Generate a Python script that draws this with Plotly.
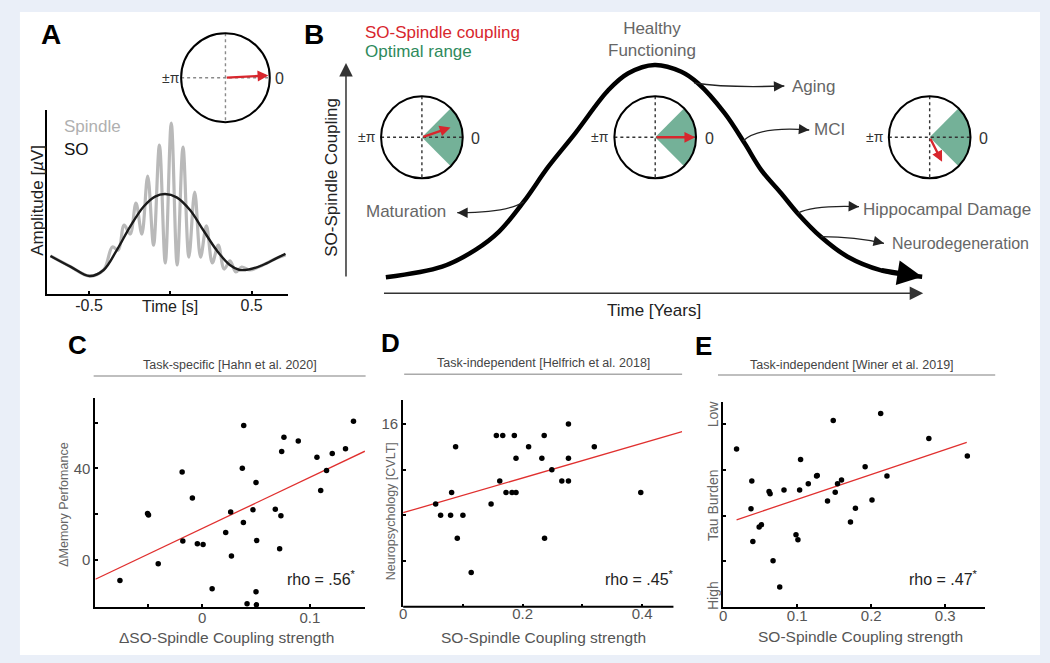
import math
import plotly.graph_objects as go

W, H = 1050, 663

# ---------------- data ----------------
# Panel A: schematic slow oscillation (SO) and spindle (time in s, amplitude a.u.)
so_time = [-0.737, -0.614, -0.496, -0.410, -0.329, -0.247, -0.165, -0.094, -0.032, 0.039,
           0.121, 0.202, 0.284, 0.366, 0.427, 0.488, 0.569, 0.651, 0.708]
so_amp = [20.8, 15.0, 9.9, 13.2, 24.0, 36.7, 47.5, 53.0, 54.4, 52.6,
          45.7, 34.9, 24.0, 15.9, 13.2, 13.6, 15.9, 19.5, 21.9]
spindle_time = [-0.737, -0.614, -0.496, -0.410, -0.356, -0.320, -0.284, -0.247, -0.211, -0.175,
                -0.139, -0.103, -0.067, -0.031, 0.006, 0.042, 0.078, 0.114, 0.150, 0.186,
                0.222, 0.258, 0.295, 0.331, 0.367, 0.403, 0.439, 0.488, 0.569, 0.651, 0.708]
spindle_amp = [20.8, 15.0, 9.9, 13.2, 25.7, 24.0, 37.6, 32.7, 49.5, 32.7,
               64.2, 26.7, 81.0, 17.0, 92.9, 15.9, 79.9, 20.2, 55.5, 20.2,
               37.1, 17.0, 26.7, 13.7, 18.1, 12.1, 14.8, 13.2, 15.9, 19.5, 21.3]
a_phase_deg = 3
a_vec_len = 0.97

# Panel B: schematic lifespan trajectory of SO-spindle coupling
life_time = [0, 10.5, 16.7, 21.1, 25.7, 30.3, 35.3, 41.5, 45.2, 50.1,
             55.1, 58.2, 63.2, 66.9, 70.0, 73.7, 76.8, 81.1, 86.1, 92.2, 100]
life_coupling = [0, 5.0, 12.9, 21.5, 35.6, 52.1, 67.8, 88.2, 96.1, 100,
                 96.8, 91.4, 77.2, 63.1, 50.5, 39.6, 30.1, 19.1, 9.7, 3.4, 0.3]
stage_phase_deg = [19, 0, -63]
stage_vec_len = [0.74, 0.98, 0.67]
optimal_range_deg = [-45, 45]

# Panel C: Hahn et al. 2020
c_x = [-0.0762, -0.0506, -0.0497, -0.0407, -0.0185, -0.0179, -0.0090, -0.0044, 0.0009, 0.0093,
       0.0219, 0.0265, 0.0272, 0.0386, 0.0373, 0.0383, 0.0417, 0.0472, 0.0500, 0.0506,
       0.0500, 0.0503, 0.0679, 0.0719, 0.0731, 0.0738, 0.0759, 0.0892, 0.1065, 0.1100,
       0.1154, 0.1207, 0.1330, 0.1404]
c_y = [-9.0, 20.3, 19.6, -1.7, 38.4, 8.3, 27.1, 7.1, 6.8, -12.6,
       12.0, 21.0, 1.7, 58.7, 40.1, 16.4, -19.1, 21.9, 33.8, 8.5,
       -13.9, -19.6, 22.2, 4.9, 19.3, 47.4, 53.6, 52.0, 44.9, 30.3,
       39.1, 46.5, 48.6, 60.6]
c_fit_x = [-0.099, 0.151]
c_fit_y = [-8.4, 47.5]

# Panel D: Helfrich et al. 2018
d_x = [0.0544, 0.0627, 0.0794, 0.0811, 0.0878, 0.0906, 0.1000, 0.1139, 0.1472, 0.1560,
       0.1617, 0.1667, 0.1722, 0.1822, 0.1861, 0.1889, 0.1889, 0.2100, 0.2322, 0.2361,
       0.2367, 0.2489, 0.2656, 0.2767, 0.2767, 0.2767, 0.3200, 0.3978]
d_y = [9, 8, 8, 10, 14, 6, 8, 3, 9, 15,
       11, 15, 10, 10, 15, 10, 13, 14, 13, 15,
       6, 12, 11, 16, 13, 11, 14, 10]
d_fit_x = [0.0, 0.467]
d_fit_y = [8.23, 15.33]

# Panel E: Winer et al. 2019
e_x = [0.0180, 0.0386, 0.0375, 0.0400, 0.0485, 0.0516, 0.0619, 0.0633, 0.0673, 0.0763,
       0.0821, 0.0983, 0.1009, 0.1032, 0.1045, 0.1149, 0.1261, 0.1270, 0.1409, 0.1486,
       0.1513, 0.1544, 0.1598, 0.1719, 0.1786, 0.1917, 0.2010, 0.2127, 0.2212, 0.2778,
       0.3298]
e_y = [3.46, 2.76, 2.15, 1.43, 1.75, 1.80, 2.53, 2.48, 1.01, 0.43,
       2.56, 1.58, 1.47, 2.56, 3.23, 2.70, 2.87, 2.88, 2.32, 4.09,
       2.51, 2.70, 2.78, 1.86, 2.16, 3.07, 2.34, 4.24, 2.87, 3.69,
       3.31]
e_fit_x = [0.018, 0.329]
e_fit_y = [1.908, 3.605]

# ---------------- helpers ----------------
FONT = "Liberation Sans, Arial, Helvetica, sans-serif"
RED = "#d8262d"
GREEN_FILL = "#74b198"
GREEN_TXT = "#2e8a5c"
GRAY_TXT = "#666666"


def px(x):
    return x / W


def py(y):
    return 1 - y / H


def xdom(a, b):
    return [px(a), px(b)]


def ydom(top, bottom):
    return [py(bottom), py(top)]


shapes = []
annotations = []


def text(x, y, s, size=16, color="#222", xanchor="center", yanchor="middle", angle=0, bold=False):
    if bold:
        s = "<b>" + s + "</b>"
    annotations.append(dict(x=px(x), y=py(y), xref="paper", yref="paper", text=s, showarrow=False,
                            xanchor=xanchor, yanchor=yanchor, textangle=angle,
                            font=dict(size=size, color=color, family=FONT)))


def arrow(x1, y1, dx, dy, color="#222", width=1.3, size=1.0, head=2):
    # head at (x1, y1) pixels, tail offset (dx, dy) pixels
    annotations.append(dict(x=px(x1), y=py(y1), xref="paper", yref="paper", text="", showarrow=True,
                            ax=dx, ay=dy, arrowhead=head, arrowsize=size, arrowwidth=width,
                            arrowcolor=color, standoff=0, startstandoff=0))


def curved_arrow(x0, y0, cx, cy, x1, y1):
    shapes.append(dict(type="path", xref="paper", yref="paper",
                       path=f"M {px(x0)},{py(y0)} Q {px(cx)},{py(cy)} {px(x1)},{py(y1)}",
                       line=dict(color="#222", width=1.3)))
    dx, dy = x1 - cx, y1 - cy
    n = math.hypot(dx, dy)
    arrow(x1, y1, -dx / n * 9, -dy / n * 9, width=1.3, size=1.6)


def phase_circle(cx, cy, r, phase, vlen, wedge, dot_color):
    if wedge:
        lo, hi = optimal_range_deg
        pts = []
        for k in range(31):
            ang = math.radians(lo + (hi - lo) * k / 30)
            pts.append((cx + r * math.cos(ang), cy - r * math.sin(ang)))
        path = f"M {px(cx)},{py(cy)} " + " ".join(f"L {px(x)},{py(y)}" for x, y in pts) + " Z"
        shapes.append(dict(type="path", xref="paper", yref="paper", path=path,
                           fillcolor=GREEN_FILL, line=dict(width=0)))
    shapes.append(dict(type="line", xref="paper", yref="paper", x0=px(cx - r), x1=px(cx + r),
                       y0=py(cy), y1=py(cy), line=dict(color=dot_color, width=1.4, dash="dot")))
    shapes.append(dict(type="line", xref="paper", yref="paper", x0=px(cx), x1=px(cx),
                       y0=py(cy - r), y1=py(cy + r), line=dict(color=dot_color, width=1.4, dash="dot")))
    shapes.append(dict(type="circle", xref="paper", yref="paper", x0=px(cx - r), x1=px(cx + r),
                       y0=py(cy + r), y1=py(cy - r), line=dict(color="black", width=2)))
    th = math.radians(phase)
    tx = cx + vlen * r * math.cos(th)
    ty = cy - vlen * r * math.sin(th)
    arrow(tx, ty, -vlen * r * math.cos(th), vlen * r * math.sin(th), color=RED, width=2.4, size=0.9)
    text(cx - 55, cy, "±π", size=14, color="#333")
    text(cx + 54, cy + 1, "0", size=16, color="#333")


# background white card
shapes.append(dict(type="rect", xref="paper", yref="paper", x0=px(16), x1=px(1040), y0=py(655), y1=py(12),
                   fillcolor="white", line=dict(width=0), layer="below"))

fig = go.Figure()

# ---------------- Panel A ----------------
fig.add_trace(go.Scatter(x=spindle_time, y=spindle_amp, mode="lines", line=dict(color="#b9b9b9", width=3.2, shape="spline", smoothing=1.0),
                         xaxis="x", yaxis="y", showlegend=False, hoverinfo="skip"))
fig.add_trace(go.Scatter(x=so_time, y=so_amp, mode="lines", line=dict(color="#1a1a1a", width=2.4, shape="spline", smoothing=1.0),
                         xaxis="x", yaxis="y", showlegend=False, hoverinfo="skip"))
text(47.5, 34, "A", size=28, color="black", bold=True)
text(58, 127, "Spindle", size=17, color="#b0b0b0", xanchor="left")
text(58, 150, "SO", size=17, color="#111", xanchor="left")
text(33, 200, "Amplitude [<i>µ</i>V]", size=17, color="#222", angle=-90)
text(167, 306, "Time [s]", size=16, color="#222")
phase_circle(222.3, 77.7, 44.5, a_phase_deg, a_vec_len, False, "#8a8a8a")

# ---------------- Panel B ----------------
fig.add_trace(go.Scatter(x=life_time, y=life_coupling, mode="lines",
                         line=dict(color="black", width=4.5, shape="spline", smoothing=1.0),
                         xaxis="x2", yaxis="y2", showlegend=False, hoverinfo="skip"))
annotations.append(dict(x=life_time[-1], y=life_coupling[-1], xref="x2", yref="y2",
                        ax=life_time[-2], ay=life_coupling[-2], axref="x2", ayref="y2",
                        text="", showarrow=True, arrowhead=2, arrowsize=1.1, arrowwidth=4.5,
                        arrowcolor="black", standoff=0))
text(311, 34, "B", size=28, color="black", bold=True)
text(360, 32, "SO-Spindle coupling", size=17, color=RED, xanchor="left")
text(360, 52, "Optimal range", size=17, color=GREEN_TXT, xanchor="left")
text(650, 39, "Healthy<br>Functioning", size=17, color=GRAY_TXT)
text(329, 177, "SO-Spindle Coupling", size=17, color="#222", angle=-90)
text(652, 310, "Time [Years]", size=17, color="#222")
# axis arrows
arrow(343.3, 63, 0, 215, color="#333", width=1.5, size=1.8)
arrow(922.7, 293.3, -540.7, 0, color="#333", width=1.5, size=1.8)
# stage circles
for cx, ph, vl in zip([419.5, 653.7, 929.2], stage_phase_deg, stage_vec_len):
    phase_circle(cx, 137.3, 41, ph, vl, True, "#333")
# annotations with curved arrows
curved_arrow(693, 83, 725, 88, 783.3, 86)
text(789, 86.5, "Aging", size=17, color=GRAY_TXT, xanchor="left")
curved_arrow(741.7, 141, 758, 126, 808.3, 130)
text(811.5, 130, "MCI", size=17, color=GRAY_TXT, xanchor="left")
curved_arrow(796.7, 213.3, 812, 205, 858.3, 206.7)
text(860.5, 209, "Hippocampal Damage", size=17, color=GRAY_TXT, xanchor="left")
curved_arrow(820, 236.7, 855, 237, 883.3, 243.3)
text(889, 243, "Neurodegeneration", size=16, color=GRAY_TXT, xanchor="left")
curved_arrow(521.7, 201.7, 505, 213, 455, 212.7)
text(446, 212, "Maturation", size=17, color=GRAY_TXT, xanchor="right")

# ---------------- Panels C, D, E ----------------
def scatter_panel(xs, ys, fx, fy, ax_id):
    fig.add_trace(go.Scatter(x=fx, y=fy, mode="lines", line=dict(color="#e0302f", width=1.3),
                             xaxis="x" + ax_id, yaxis="y" + ax_id, showlegend=False, hoverinfo="skip"))
    fig.add_trace(go.Scatter(x=xs, y=ys, mode="markers", marker=dict(color="black", size=5.5),
                             cliponaxis=False, xaxis="x" + ax_id, yaxis="y" + ax_id,
                             showlegend=False, hoverinfo="skip"))


scatter_panel(c_x, c_y, c_fit_x, c_fit_y, "3")
scatter_panel(d_x, d_y, d_fit_x, d_fit_y, "4")
scatter_panel(e_x, e_y, e_fit_x, e_fit_y, "5")

for (lx, ly, letter), (tx, ty, title, l0, l1, lyy) in zip(
        [(74, 345, "C"), (388, 343, "D"), (702.5, 346, "E")],
        [(227, 365, "Task-specific [Hahn et al. 2020]", 90, 363, 376),
         (541.7, 363.3, "Task-independent [Helfrich et al. 2018]", 401.7, 680.7, 374.3),
         (851.7, 365, "Task-independent [Winer et al. 2019]", 716.7, 995, 375)]):
    text(lx, ly, letter, size=26, color="black", bold=True)
    text(tx, ty, title, size=12.5, color="#444")
    shapes.append(dict(type="line", xref="paper", yref="paper", x0=px(l0), x1=px(l1), y0=py(lyy), y1=py(lyy),
                       line=dict(color="#aaaaaa", width=1.5)))

text(223, 637, "ΔSO-Spindle Coupling strength", size=15.5, color="#555")
text(541.7, 637, "SO-Spindle Coupling strength", size=15.5, color="#555")
text(860, 636, "SO-Spindle Coupling strength", size=15.5, color="#555")
text(60, 505, "ΔMemory Perfomance", size=12.5, color="#666", angle=-90)
text(388, 511.7, "Neuropsychology [CVLT]", size=12.5, color="#666", angle=-90)
text(711.7, 505, "Tau Burden", size=14, color="#666", angle=-90)
text(711.7, 413.3, "Low", size=14, color="#666", angle=-90)
text(711.7, 595, "High", size=14, color="#666", angle=-90)
text(355, 578.3, "rho = .56<sup>*</sup>", size=16, color="#222", xanchor="right")
text(675, 578.3, "rho = .45<sup>*</sup>", size=16, color="#222", xanchor="right")
text(980, 578.3, "rho = .47<sup>*</sup>", size=16, color="#222", xanchor="right")
# x-axis line of panel D stops before the fit line end
shapes.append(dict(type="line", xref="paper", yref="paper", x0=px(400.7), x1=px(672), y0=py(606.7), y1=py(606.7),
                   line=dict(color="black", width=2)))

AX = dict(showgrid=False, zeroline=False, showline=True, linecolor="black", linewidth=2,
          ticks="inside", ticklen=3, tickwidth=1.5, tickcolor="black",
          tickfont=dict(size=15, color="#555", family=FONT))
HID = dict(showgrid=False, zeroline=False, showline=False, showticklabels=False, ticks="")

fig.update_layout(
    width=W, height=H, margin=dict(l=0, r=0, t=0, b=0),
    paper_bgcolor="#eaeff8", plot_bgcolor="white",
    font=dict(family=FONT),
    xaxis=dict(AX, domain=xdom(42.7, 285), range=[-0.761, 0.723], anchor="y",
               tickvals=[-0.5, 0, 0.5], ticktext=["-0.5", "", "0.5"], ticklabelstandoff=-5,
               tickfont=dict(size=16, color="#222", family=FONT)),
    yaxis=dict(AX, domain=ydom(110, 294.3), range=[0, 100], anchor="x", ticks="", showticklabels=False),
    xaxis2=dict(HID, domain=xdom(356.4, 948.6), range=[-5, 105], anchor="y2"),
    yaxis2=dict(HID, domain=ydom(54.4, 287.9), range=[-5, 105], anchor="x2"),
    xaxis3=dict(AX, domain=xdom(91.7, 362.3), range=[-0.099, 0.151], anchor="y3", ticklabelstandoff=-4,
                tickvals=[-0.05, 0, 0.05, 0.1], ticktext=["", "0", "", "0.1"]),
    yaxis3=dict(AX, domain=ydom(398.3, 606.7), range=[-20.4, 70.6], anchor="x3",
                tickvals=[0, 20, 40, 60], ticktext=["0", "", "40", ""]),
    xaxis4=dict(AX, domain=xdom(400.7, 680.7), range=[0, 0.467], anchor="y4", showline=False, ticklabelstandoff=-4,
                tickvals=[0, 0.1, 0.2, 0.3, 0.4], ticktext=["0", "", "0.2", "", "0.4"]),
    yaxis4=dict(AX, domain=ydom(400, 606.7), range=[0, 18.1], anchor="x4",
                tickvals=[4, 8, 12, 16], ticktext=["", "", "", "16"]),
    xaxis5=dict(AX, domain=xdom(722, 985), range=[0, 0.354], anchor="y5", ticklabelstandoff=-6,
                tickvals=[0, 0.1, 0.2, 0.3], ticktext=["0", "0.1", "0.2", "0.3"]),
    yaxis5=dict(AX, domain=ydom(401.7, 606.7), range=[0, 4.5], anchor="x5",
                tickvals=[1, 2, 3, 4], showticklabels=False),
    shapes=shapes, annotations=annotations,
)

fig.write_html("out.html", config={"displayModeBar": False},
               post_script="document.body.style.margin='0px';")
